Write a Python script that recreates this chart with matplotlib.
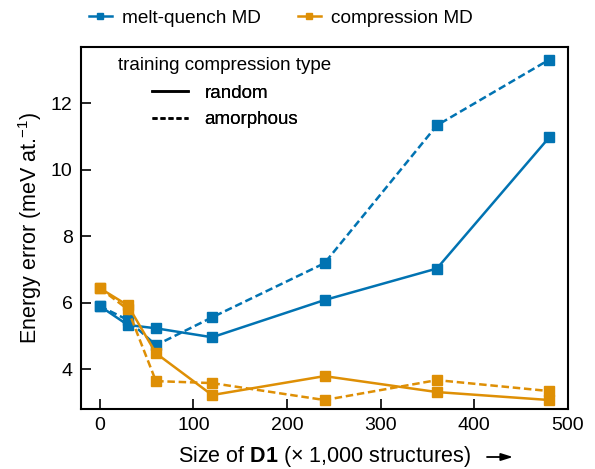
import matplotlib.pyplot as plt
from matplotlib.lines import Line2D

plt.rcParams['font.family'] = ['Liberation Sans', 'DejaVu Sans']
plt.rcParams['mathtext.fontset'] = 'custom'
plt.rcParams['mathtext.rm'] = 'Liberation Sans'
plt.rcParams['mathtext.bf'] = 'Liberation Sans:bold'

sizes = [0, 30, 60, 120, 240, 360, 480]
mq_random = [5.9, 5.33, 5.23, 4.96, 6.08, 7.03, 10.98]
mq_amorphous = [5.9, 5.48, 4.72, 5.56, 7.19, 11.34, 13.32]
cmp_random = [6.44, 5.92, 4.48, 3.22, 3.79, 3.31, 3.07]
cmp_amorphous = [6.44, 5.8, 3.64, 3.58, 3.07, 3.67, 3.34]

blue = '#0173b2'
orange = '#de8f05'
W, H = 595, 469

fig = plt.figure(figsize=(5.95, 4.69), dpi=100)
ax = fig.add_axes([81 / W, 1 - 409 / H, 487 / W, 362 / H])

dash = (0, (3, 1.5))
kw = dict(marker='s', markersize=7, linewidth=1.8)
ax.plot(sizes, mq_random, color=blue, linestyle='-', **kw)
ax.plot(sizes, mq_amorphous, color=blue, linestyle=dash, **kw)
ax.plot(sizes, cmp_random, color=orange, linestyle='-', **kw)
ax.plot(sizes, cmp_amorphous, color=orange, linestyle=dash, **kw)

ax.set_xlim(-20, 500)
ax.set_ylim(2.8, 13.7)
ax.set_xticks([0, 100, 200, 300, 400, 500])
ax.set_yticks([4, 6, 8, 10, 12])
ax.tick_params(direction='in', length=7, width=1.2, labelsize=14, pad=6)
for s in ax.spines.values():
    s.set_linewidth(1.5)

ax.set_ylabel('Energy error (meV at.$^{-1}$)', fontsize=15.5, labelpad=5)
ax.set_xlabel(r'Size of $\mathbf{D1}$ (× 1,000 structures)', fontsize=15.5, labelpad=7)
ax.annotate('', xy=(513 / W, 1 - 457 / H), xytext=(487 / W, 1 - 457 / H),
            xycoords='figure fraction', textcoords='figure fraction',
            arrowprops=dict(arrowstyle='-|>,head_length=0.7,head_width=0.22',
                            color='black', linewidth=1.3, shrinkA=0, shrinkB=0))

# inner legend: line style = training compression type
fig.text(118 / W, 1 - 65 / H, 'training compression type', fontsize=13.5, va='center', ha='left')
style_handles = [Line2D([], [], color='black', linestyle='-', linewidth=1.8),
                 Line2D([], [], color='black', linestyle=(0, (2, 1.2)), linewidth=1.8)]
leg2 = ax.legend(style_handles, ['random', 'amorphous'], loc='center left',
                 bbox_to_anchor=(152 / W, 1 - 106.5 / H), bbox_transform=fig.transFigure,
                 frameon=False, fontsize=13.5, handlelength=1.9, handletextpad=0.9,
                 borderpad=0, borderaxespad=0, labelspacing=0.5)
ax.add_artist(leg2)

# top legend: data source
src_handles = [Line2D([], [], color=blue, marker='s', markersize=5, linewidth=1.8),
               Line2D([], [], color=orange, marker='s', markersize=5, linewidth=1.8)]
fig.legend(src_handles, ['melt-quench MD', 'compression MD'], loc='center left',
           bbox_to_anchor=(89 / W, 1 - 18 / H), ncol=2, frameon=False, fontsize=13.7,
           handlelength=1.2, handletextpad=0.53, columnspacing=1.94,
           borderpad=0, borderaxespad=0)

fig.savefig('out.png', dpi=100)
